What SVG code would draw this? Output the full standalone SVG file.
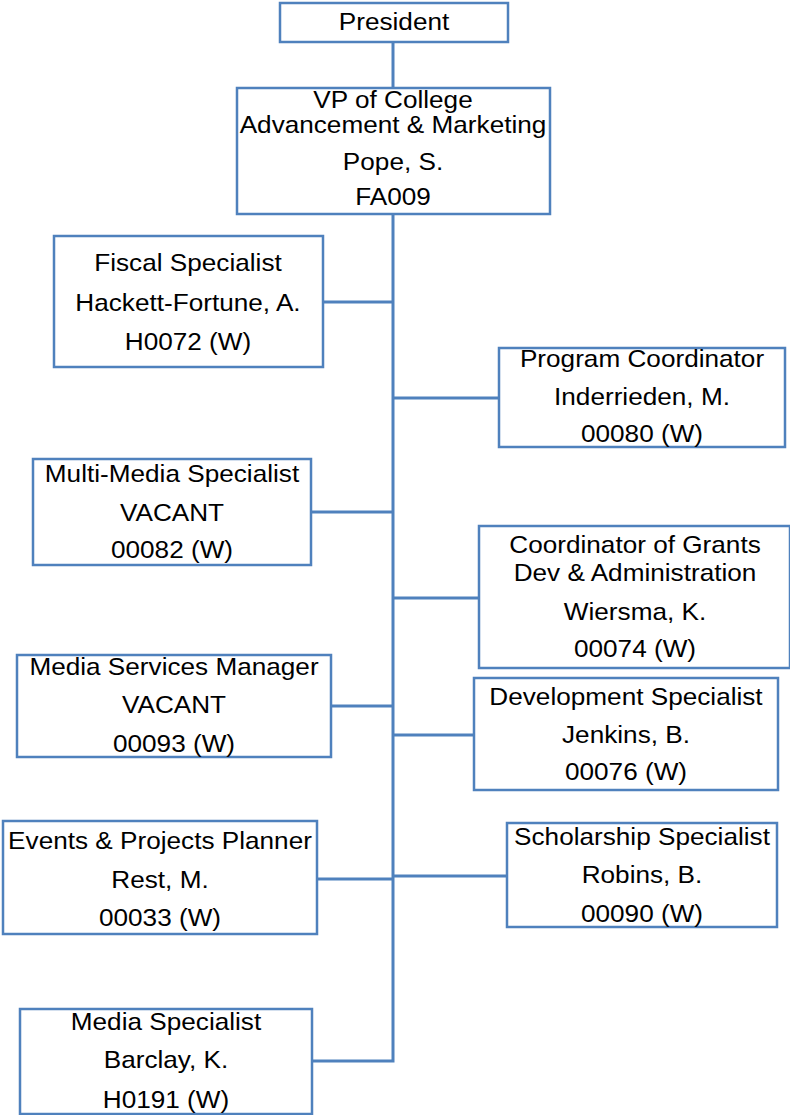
<svg xmlns="http://www.w3.org/2000/svg" width="790" height="1115" viewBox="0 0 790 1115">
<style>
.box{fill:#ffffff;stroke:#4F81BD;stroke-width:2.5}
.ln{fill:none;stroke:#4F81BD;stroke-width:3}
.t{font-family:"Liberation Sans",Arial,sans-serif;font-size:24px;fill:#000;text-anchor:middle}
</style>
<rect width="790" height="1115" fill="#fff"/>
<g id="connectors">
<line class="ln" x1="393" y1="42" x2="393" y2="88"/>
<polyline class="ln" points="393,214 393,1061 312,1061"/>
<line class="ln" x1="323" y1="302" x2="393" y2="302"/>
<line class="ln" x1="393" y1="398" x2="499" y2="398"/>
<line class="ln" x1="311" y1="512" x2="393" y2="512"/>
<line class="ln" x1="393" y1="598" x2="479" y2="598"/>
<line class="ln" x1="331" y1="706" x2="393" y2="706"/>
<line class="ln" x1="393" y1="735" x2="474" y2="735"/>
<line class="ln" x1="317" y1="879" x2="393" y2="879"/>
<line class="ln" x1="393" y1="876" x2="507" y2="876"/>
</g>
<g id="president">
<rect class="box" x="280" y="3" width="228" height="39"/>
<text class="t" transform="translate(394,30) scale(1.09,1)">President</text>
</g>
<g id="vp">
<rect class="box" x="237" y="88" width="313" height="126"/>
<text class="t" transform="translate(393,108) scale(1.09,1)">VP of College</text>
<text class="t" transform="translate(393,133) scale(1.09,1)">Advancement &amp; Marketing</text>
<text class="t" transform="translate(393,170) scale(1.09,1)">Pope, S.</text>
<text class="t" transform="translate(393,205) scale(1.09,1)">FA009</text>
</g>
<g id="fiscal">
<rect class="box" x="54" y="236" width="269" height="131"/>
<text class="t" transform="translate(188,271) scale(1.09,1)">Fiscal Specialist</text>
<text class="t" transform="translate(188,311) scale(1.09,1)">Hackett-Fortune, A.</text>
<text class="t" transform="translate(188,350) scale(1.09,1)">H0072 (W)</text>
</g>
<g id="program">
<rect class="box" x="499" y="348" width="286" height="99"/>
<text class="t" transform="translate(642,367) scale(1.09,1)">Program Coordinator</text>
<text class="t" transform="translate(642,405) scale(1.09,1)">Inderrieden, M.</text>
<text class="t" transform="translate(642,442) scale(1.09,1)">00080 (W)</text>
</g>
<g id="multimedia">
<rect class="box" x="33" y="459" width="278" height="106"/>
<text class="t" transform="translate(172,482) scale(1.09,1)">Multi-Media Specialist</text>
<text class="t" transform="translate(172,521) scale(1.09,1)">VACANT</text>
<text class="t" transform="translate(172,558) scale(1.09,1)">00082 (W)</text>
</g>
<g id="grants">
<rect class="box" x="479" y="526" width="311" height="142"/>
<text class="t" transform="translate(635,553) scale(1.09,1)">Coordinator of Grants</text>
<text class="t" transform="translate(635,581) scale(1.09,1)">Dev &amp; Administration</text>
<text class="t" transform="translate(635,620) scale(1.09,1)">Wiersma, K.</text>
<text class="t" transform="translate(635,657) scale(1.09,1)">00074 (W)</text>
</g>
<g id="mediaservices">
<rect class="box" x="17" y="655" width="314" height="102"/>
<text class="t" transform="translate(174,675) scale(1.09,1)">Media Services Manager</text>
<text class="t" transform="translate(174,713) scale(1.09,1)">VACANT</text>
<text class="t" transform="translate(174,752) scale(1.09,1)">00093 (W)</text>
</g>
<g id="development">
<rect class="box" x="474" y="678" width="304" height="112"/>
<text class="t" transform="translate(626,705) scale(1.09,1)">Development Specialist</text>
<text class="t" transform="translate(626,743) scale(1.09,1)">Jenkins, B.</text>
<text class="t" transform="translate(626,780) scale(1.09,1)">00076 (W)</text>
</g>
<g id="events">
<rect class="box" x="3" y="821" width="314" height="113"/>
<text class="t" transform="translate(160,849) scale(1.09,1)">Events &amp; Projects Planner</text>
<text class="t" transform="translate(160,888) scale(1.09,1)">Rest, M.</text>
<text class="t" transform="translate(160,926) scale(1.09,1)">00033 (W)</text>
</g>
<g id="scholarship">
<rect class="box" x="507" y="823" width="270" height="104"/>
<text class="t" transform="translate(642,845) scale(1.09,1)">Scholarship Specialist</text>
<text class="t" transform="translate(642,883) scale(1.09,1)">Robins, B.</text>
<text class="t" transform="translate(642,922) scale(1.09,1)">00090 (W)</text>
</g>
<g id="mediaspecialist">
<rect class="box" x="20" y="1009" width="292" height="105"/>
<text class="t" transform="translate(166,1030) scale(1.09,1)">Media Specialist</text>
<text class="t" transform="translate(166,1068) scale(1.09,1)">Barclay, K.</text>
<text class="t" transform="translate(166,1108) scale(1.09,1)">H0191 (W)</text>
</g>
</svg>
